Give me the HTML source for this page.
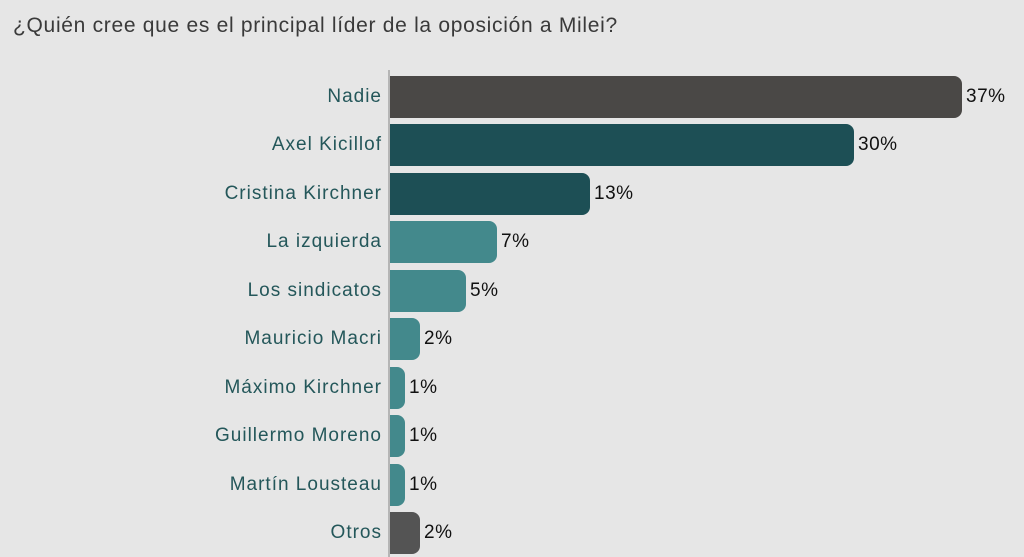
<!DOCTYPE html>
<html><head><meta charset="utf-8"><style>
body{margin:0;width:1024px;height:557px;overflow:hidden;background:#e6e6e6;font-family:"Liberation Sans",sans-serif;position:relative}
.t{position:absolute;left:13px;top:14px;font-size:21px;letter-spacing:0.7px;color:#3a3a3a}
.ax{position:absolute;left:388px;top:70px;width:2px;height:487px;background:#b5b5b5}
.l{position:absolute;right:642px;font-size:19px;letter-spacing:1px;color:#24575a;line-height:42px;white-space:nowrap}
.b{position:absolute;left:390px;height:42px;border-radius:0 8px 8px 0}
.v{position:absolute;font-size:19px;letter-spacing:0.5px;color:#111;line-height:42px}
</style></head><body>
<div class="t">¿Quién cree que es el principal líder de la oposición a Milei?</div>
<div class="ax"></div>
<div class="l" style="top:76px">Nadie</div><div class="b" style="top:76px;width:572px;background:#4a4846"></div><div class="v" style="top:76px;left:966px">37%</div>
<div class="l" style="top:124px">Axel Kicillof</div><div class="b" style="top:124px;width:464px;background:#1d4f55"></div><div class="v" style="top:124px;left:858px">30%</div>
<div class="l" style="top:173px">Cristina Kirchner</div><div class="b" style="top:173px;width:200px;background:#1d4f55"></div><div class="v" style="top:173px;left:594px">13%</div>
<div class="l" style="top:221px">La izquierda</div><div class="b" style="top:221px;width:107px;background:#43898c"></div><div class="v" style="top:221px;left:501px">7%</div>
<div class="l" style="top:270px">Los sindicatos</div><div class="b" style="top:270px;width:76px;background:#43898c"></div><div class="v" style="top:270px;left:470px">5%</div>
<div class="l" style="top:318px">Mauricio Macri</div><div class="b" style="top:318px;width:30px;background:#43898c"></div><div class="v" style="top:318px;left:424px">2%</div>
<div class="l" style="top:367px">Máximo Kirchner</div><div class="b" style="top:367px;width:15px;background:#43898c"></div><div class="v" style="top:367px;left:409px">1%</div>
<div class="l" style="top:415px">Guillermo Moreno</div><div class="b" style="top:415px;width:15px;background:#43898c"></div><div class="v" style="top:415px;left:409px">1%</div>
<div class="l" style="top:464px">Martín Lousteau</div><div class="b" style="top:464px;width:15px;background:#43898c"></div><div class="v" style="top:464px;left:409px">1%</div>
<div class="l" style="top:512px">Otros</div><div class="b" style="top:512px;width:30px;background:#545454"></div><div class="v" style="top:512px;left:424px">2%</div>
</body></html>
